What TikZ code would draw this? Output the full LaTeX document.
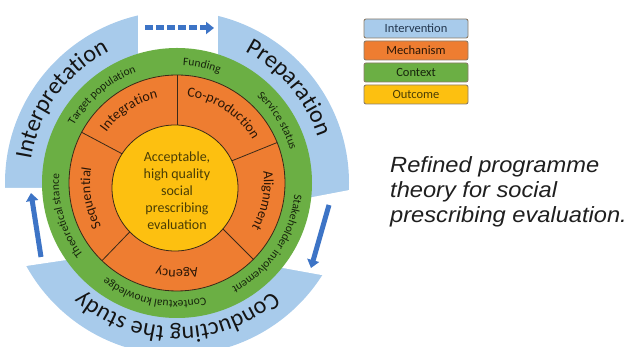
\documentclass[tikz,border=0pt]{standalone}
\usepackage{fontspec}
\newfontfamily\carl{Carlito}
\newfontfamily\capfont[FakeStretch=1.075]{Liberation Sans}
\usetikzlibrary{decorations.text,arrows.meta,calc}
\definecolor{ringblue}{HTML}{A8CBEB}
\definecolor{ctxgreen}{HTML}{6BAF44}
\definecolor{mechorange}{HTML}{EE7D31}
\definecolor{outyellow}{HTML}{FDC010}
\definecolor{arrblue}{HTML}{3D74C6}
\definecolor{edgedark}{HTML}{3A2A18}
\definecolor{legedge}{HTML}{8C7C68}
\definecolor{centertext}{HTML}{4A3D05}
\definecolor{ctxtext}{HTML}{16240C}
\definecolor{mechtext}{HTML}{2A1606}
\definecolor{inttext}{HTML}{23374F}
\newcommand\outf{\carl\fontsize{24}{24}\selectfont\color{black!92}}
\newcommand\ctxf{\carl\fontsize{11.5}{12}\selectfont\color{ctxtext}}
\newcommand\mechf{\carl\fontsize{14}{14}\selectfont\color{mechtext}}
\newcommand\ringtext[5]{\path[decorate,decoration={text along path,text align=center,text={|#4|#5}}] (#2+#3:#1) arc[start angle=#2+#3,end angle=#2-#3,radius=#1];}
\begin{document}
\begin{tikzpicture}[x=1pt,y=1pt,
  legbox/.style={draw=legedge,line width=0.9pt,rounded corners=2pt,minimum width=104pt,minimum height=19pt,inner sep=0pt,font=\carl\fontsize{12.5}{13}\selectfont},
  flowarrow/.style={draw=arrblue,line width=5pt,-{Triangle[width=12pt,length=8pt]}},
  divider/.style={draw=edgedark,line width=0.8pt}]
\useasboundingbox (0,0) rectangle (627,347);
\clip (0,0) rectangle (627,347);
\coordinate (C) at (177,164);
% outer intervention ring
\fill[ringblue] (C) circle[radius=172];
\fill[white] (138,240) rectangle (218,348);
\fill[white] (-1,159) -- (100,159) -- (100,92) -- (-1,77) -- cycle;
\fill[white] (250,138) -- (360,159) -- (360,65) -- (250,85) -- cycle;
% context ring
\fill[ctxgreen] (C) circle[radius=135];
% mechanism ring
\filldraw[fill=mechorange,divider] (C) circle[radius=108];
\foreach \a in {90,152,22,-45,-134}
  \draw[divider] ($(C)+(\a:108)$) -- ($(C)+(\a:50)$);
% outcome
\filldraw[fill=outyellow,divider] (175,159) circle[radius=63];
\node[font=\carl\fontsize{14}{17}\selectfont,text=centertext,align=center] (outc) at (177,156)
  {Acceptable,\\high quality\\social\\prescribing\\evaluation};
\begin{scope}[shift={(C)}]
\ringtext{148}{144}{37}{\outf}{Interpretation}
\ringtext{148}{40.4}{32}{\outf}{Preparation}
\ringtext{144}{-90}{52}{\outf}{Conducting the study}
\ringtext{118}{78}{20}{\ctxf}{Funding}
\ringtext{118}{130.5}{30}{\ctxf}{Target population}
\ringtext{118}{31.8}{26}{\ctxf}{Service status}
\ringtext{118}{-33.9}{38}{\ctxf}{Stakeholder involvement}
\ringtext{118}{-101.5}{35}{\ctxf}{Contextual knowledge}
\ringtext{118}{196.5}{30}{\ctxf}{Theoretical stance}
\ringtext{87}{123.5}{31}{\mechf}{Integration}
\ringtext{87}{56.5}{37}{\mechf}{Co-production}
\ringtext{87}{-11.5}{29}{\mechf}{Alignment}
\ringtext{87}{-90}{24}{\mechf}{Agency}
\ringtext{87}{190}{30}{\mechf}{Sequential}
\end{scope}
% cycle arrows
\coordinate (topA) at (145,319);
\coordinate (topB) at (214,319);
\draw[flowarrow,dash pattern=on 8pt off 3pt] (topA) -- (topB);
\coordinate (rightA) at (329,142);
\coordinate (rightB) at (311,79);
\draw[flowarrow] (rightA) -- (rightB);
\coordinate (leftA) at (41,90);
\coordinate (leftB) at (31,154);
\draw[flowarrow] (leftA) -- (leftB);
% legend
\node[legbox,fill=ringblue,text=inttext] (lint) at (416,318.5) {Intervention};
\node[legbox,fill=mechorange,text=mechtext] (lmech) at (416,296.5) {Mechanism};
\node[legbox,fill=ctxgreen,text=ctxtext] (lctx) at (416,274.5) {Context};
\node[legbox,fill=outyellow,text=centertext] (lout) at (416,252.5) {Outcome};
% caption
\node[anchor=base west,inner sep=0pt,text=black!88] (cap) at (390,174)
  {\capfont\itshape\fontsize{22}{25}\selectfont\vtop{\hbox{Refined programme}\hbox{theory for social}\hbox{prescribing evaluation.}}};
\end{tikzpicture}
\end{document}
